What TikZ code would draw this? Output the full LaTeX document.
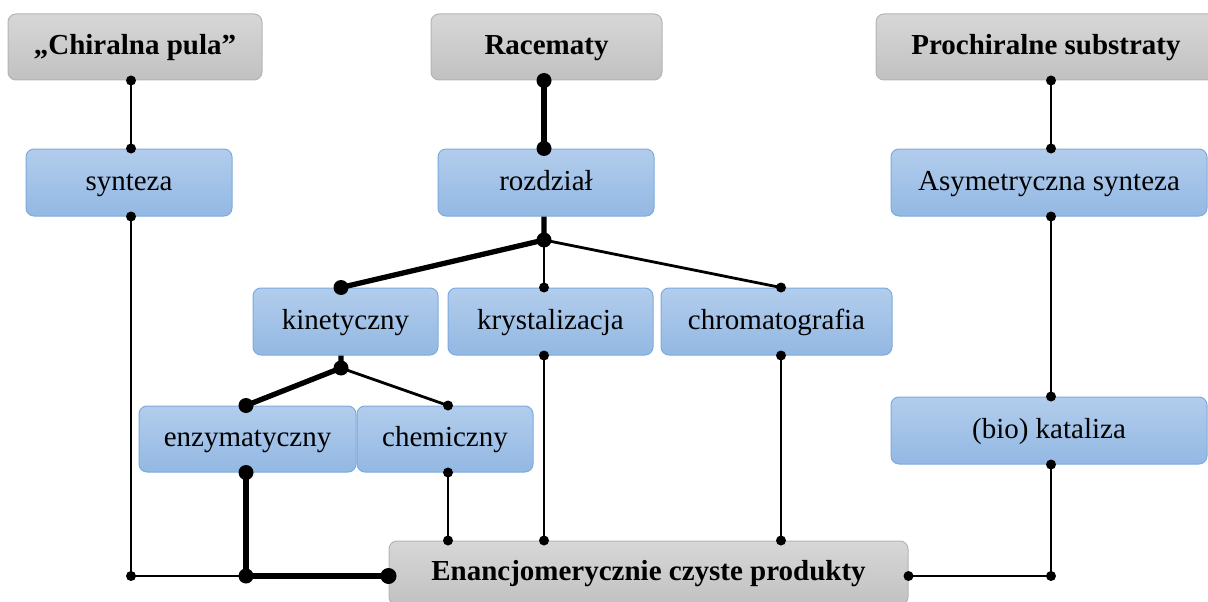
\documentclass[tikz,border=0pt]{standalone}
\usepackage{fontspec}
\setmainfont{Liberation Serif}
\usetikzlibrary{calc}

\definecolor{greyTop}{HTML}{D7D7D7}
\definecolor{greyBot}{HTML}{C1C1C1}
\definecolor{greyEdge}{HTML}{B4B4B4}
\definecolor{blueTop}{HTML}{B2CDEC}
\definecolor{blueBot}{HTML}{93B8E3}
\definecolor{blueEdge}{HTML}{7EAADD}

\begin{document}
\begin{tikzpicture}[x=1pt,y=-1pt,
  box/.style={rounded corners=8pt, inner sep=0pt, text=black, line width=1pt,
              text height=21pt, text depth=6pt},
  srcbox/.style={box, draw=greyEdge, top color=greyTop, bottom color=greyBot,
                 font=\fontsize{29}{34}\selectfont\bfseries},
  stagebox/.style={box, draw=blueEdge, top color=blueTop, bottom color=blueBot,
                   font=\fontsize{29}{34}\selectfont},
  thinline/.style={line width=2.8pt, line join=miter},
  thickline/.style={line width=5.3pt, line join=miter}]

\clip (0,0) rectangle (1208,602);

% sources and result
\node[srcbox, minimum width=254pt, minimum height=66pt] (pula) at (135,47) {„Chiralna pula”};
\node[srcbox, minimum width=231pt, minimum height=66pt] (race) at (546.5,47) {Racematy};
\node[srcbox, minimum width=340pt, minimum height=66pt] (proch) at (1046,47) {Prochiralne substraty};
\node[srcbox, minimum width=519pt, minimum height=64pt] (enan) at (648.5,573) {Enancjomerycznie czyste produkty};

% methods
\node[stagebox, minimum width=206pt, minimum height=67pt] (synt) at (129,182.5) {synteza};
\node[stagebox, minimum width=216pt, minimum height=67pt] (rozd) at (546,182.5) {rozdział};
\node[stagebox, minimum width=316pt, minimum height=67pt] (asym) at (1049,182.5) {Asymetryczna synteza};
\node[stagebox, minimum width=185pt, minimum height=67pt] (kin) at (345.5,321.5) {kinetyczny};
\node[stagebox, minimum width=205pt, minimum height=67pt] (kryst) at (550.5,321.5) {krystalizacja};
\node[stagebox, minimum width=231pt, minimum height=67pt] (chrom) at (776.5,321.5) {chromatografia};
\node[stagebox, minimum width=217pt, minimum height=66pt] (enz) at (247.5,439) {enzymatyczny};
\node[stagebox, minimum width=176pt, minimum height=66pt] (chem) at (445,439) {chemiczny};
\node[stagebox, minimum width=316pt, minimum height=67pt] (kat) at (1049,430.5) {(bio) kataliza};

% columns, branch points and the bottom bus
\coordinate (colPula) at (131,0);
\coordinate (colEnz) at (246,0);
\coordinate (colChem) at (448,0);
\coordinate (colRoz) at (544,0);
\coordinate (colChr) at (781,0);
\coordinate (colPro) at (1051,0);
\coordinate (bus) at (0,576);
\coordinate (jRoz) at (544,240);
\coordinate (jKin) at (341,368);

% left branch: chiral pool
\draw[thinline] (pula.south -| colPula) -- (synt.north -| colPula);
\draw[thinline] (synt.south -| colPula) -- (colPula |- bus) -- (colEnz |- bus);
\fill (pula.south -| colPula) circle (5pt) (synt.north -| colPula) circle (5pt)
      (synt.south -| colPula) circle (5pt) (colPula |- bus) circle (5pt);

% middle branch: resolution of racemates
\draw[thickline] (race.south -| colRoz) -- (rozd.north -| colRoz);
\draw[thickline] (rozd.south -| colRoz) -- (jRoz) -- (kin.north -| jKin);
\draw[thinline] (jRoz) -- (kryst.north -| colRoz);
\draw[thinline] (jRoz) -- (chrom.north -| colChr);
\draw[thickline] (kin.south -| jKin) -- (jKin) -- (enz.north -| colEnz);
\draw[thinline] (jKin) -- (chem.north -| colChem);
\draw[thickline] (enz.south -| colEnz) -- (colEnz |- bus) -- (enan.west |- bus);
\draw[thinline] (chem.south -| colChem) -- (enan.north -| colChem);
\draw[thinline] (kryst.south -| colRoz) -- (enan.north -| colRoz);
\draw[thinline] (chrom.south -| colChr) -- (enan.north -| colChr);

\fill (race.south -| colRoz) circle (7.5pt) (rozd.north -| colRoz) circle (7.5pt)
      (jRoz) circle (7.5pt) (kin.north -| jKin) circle (7.5pt)
      (jKin) circle (7.5pt) (enz.north -| colEnz) circle (7.5pt)
      (enz.south -| colEnz) circle (7.5pt) (colEnz |- bus) circle (7.5pt)
      (enan.west |- bus) circle (8pt);
\fill (kryst.north -| colRoz) circle (5pt) (chrom.north -| colChr) circle (5pt)
      (chem.north -| colChem) circle (5pt)
      (chem.south -| colChem) circle (5pt) (enan.north -| colChem) circle (5pt)
      (kryst.south -| colRoz) circle (5pt) (enan.north -| colRoz) circle (5pt)
      (chrom.south -| colChr) circle (5pt) (enan.north -| colChr) circle (5pt);

% right branch: prochiral substrates
\draw[thinline] (proch.south -| colPro) -- (asym.north -| colPro);
\draw[thinline] (asym.south -| colPro) -- (kat.north -| colPro);
\draw[thinline] (kat.south -| colPro) -- (colPro |- bus) -- (enan.east |- bus);
\fill (proch.south -| colPro) circle (5pt) (asym.north -| colPro) circle (5pt)
      (asym.south -| colPro) circle (5pt) (kat.north -| colPro) circle (5pt)
      (kat.south -| colPro) circle (5pt) (colPro |- bus) circle (5pt)
      (enan.east |- bus) circle (5pt);
\end{tikzpicture}
\end{document}
